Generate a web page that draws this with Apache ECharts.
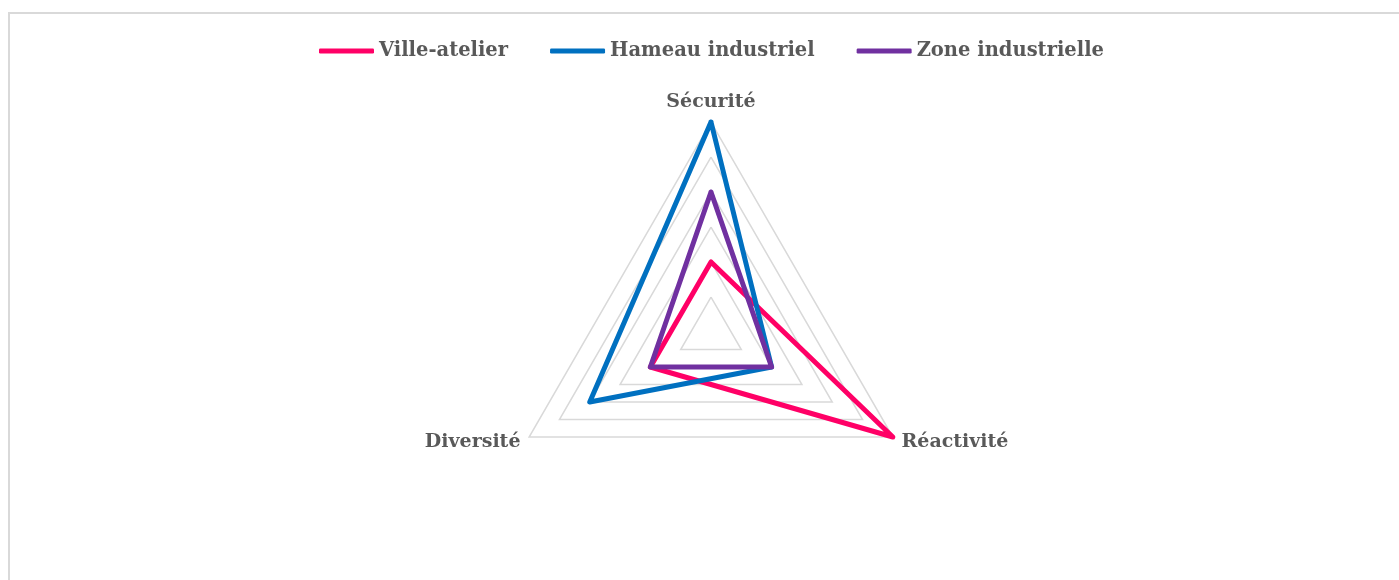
<!DOCTYPE html>
<html>
<head>
<meta charset="utf-8">
<script src="https://cdn.jsdelivr.net/npm/echarts@6/dist/echarts.min.js"></script>
<style>
  html, body { margin: 0; padding: 0; background: #fff; overflow: hidden; }
  #frame {
    position: absolute; left: 8px; top: 12px;
    width: 1400px; height: 600px;
    border: 2px solid #d9d9d9; box-sizing: border-box;
  }
  #chart { position: absolute; left: 0; top: 0; width: 1399px; height: 580px; }
</style>
</head>
<body>
<div id="frame"></div>
<div id="chart"></div>
<script>
// axes (ordre ECharts : sens anti-horaire depuis le haut)
const indicators = ['Sécurité', 'Diversité', 'Réactivité']
const maxValue = 6

const seriesNames = ['Ville-atelier', 'Hameau industriel', 'Zone industrielle']
const villeAtelier = [2, 2, 6]
const hameauIndustriel = [6, 4, 2]
const zoneIndustrielle = [4, 2, 2]
const colors = ['#FF0066', '#0070C0', '#7030A0']

const values = [villeAtelier, hameauIndustriel, zoneIndustrielle]
const textColor = '#595959'
const font = 'DejaVu Serif'

const chart = echarts.init(document.getElementById('chart'))

const option = {
  animation: false,
  legend: {
    top: 36,
    left: 314,
    icon: 'roundRect',
    itemWidth: 55,
    itemHeight: 5,
    itemGap: 42,
    data: seriesNames,
    textStyle: {
      color: textColor,
      fontFamily: font,
      fontWeight: 'bold',
      fontSize: 19.5
    }
  },
  radar: {
    center: [711, 332],
    radius: 210,
    startAngle: 90,
    shape: 'polygon',
    splitNumber: 6,
    indicator: indicators.map(name => ({ name: name, min: 0, max: maxValue })),
    axisName: {
      color: textColor,
      fontFamily: font,
      fontWeight: 'bold',
      fontSize: 19
    },
    nameGap: 10,
    axisLine: { show: false },
    axisTick: { show: false },
    splitArea: { show: false },
    splitLine: { lineStyle: { color: '#d9d9d9', width: 1.5 } }
  },
  series: [
    {
      type: 'radar',
      symbol: 'none',
      data: values.map((v, i) => ({
        name: seriesNames[i],
        value: v,
        itemStyle: { color: colors[i] },
        lineStyle: { color: colors[i], width: 5, cap: 'round', join: 'round' }
      }))
    }
  ]
}

chart.setOption(option)
</script>
</body>
</html>
